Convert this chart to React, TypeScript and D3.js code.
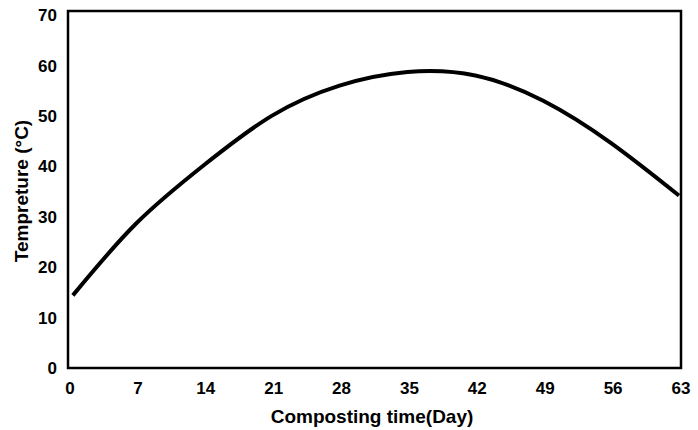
import React from "react";
import { scaleLinear, line, curveNatural } from "d3";

// composting days
const days = [0.5, 7, 14, 21, 28, 35, 42, 49, 56, 63];
const temps = [14.4, 28.6, 40.2, 50.0, 56.0, 58.7, 58.0, 53.0, 44.6, 34.2];

const xTicks = [0, 7, 14, 21, 28, 35, 42, 49, 56, 63];
const yTicks = [0, 10, 20, 30, 40, 50, 60, 70];

export default function App() {
  const width = 698;
  const height = 430;
  const left = 68;
  const right = 681;
  const top = 11;
  const bottom = 368;

  const x = scaleLinear().domain([0, 63]).range([68, 679]);
  const y = scaleLinear().domain([0, 70]).range([368, 15]);

  const pts = days.map((d, i) => [d, temps[i]] as [number, number]);
  const path = line<[number, number]>()
    .x(d => x(d[0]))
    .y(d => y(d[1]))
    .curve(curveNatural)(pts);

  const font = "'Liberation Sans', Arial, sans-serif";

  return (
    <svg width={width} height={height} style={{ position: "absolute", left: 0, top: 0, background: "#fff" }}>
      <rect x={left} y={top} width={right - left} height={bottom - top} fill="none" stroke="#000" strokeWidth={2.5} />
      <path d={path || ""} fill="none" stroke="#000" strokeWidth={4} />

      {yTicks.map(t => (
        <text key={t} x={57} y={y(t)} dy="0.36em" textAnchor="end"
          fontFamily={font} fontWeight="bold" fontSize={17}>{t}</text>
      ))}
      {xTicks.map(t => (
        <text key={t} x={x(t) + 2} y={394} textAnchor="middle"
          fontFamily={font} fontWeight="bold" fontSize={17}>{t}</text>
      ))}

      <text x={372} y={423} textAnchor="middle" fontFamily={font} fontWeight="bold" fontSize={19}>
        Composting time(Day)
      </text>
      <text transform="translate(28,191) rotate(-90)" textAnchor="middle"
        fontFamily={font} fontWeight="bold" fontSize={19}>
        Tempreture (°C)
      </text>
    </svg>
  );
}
